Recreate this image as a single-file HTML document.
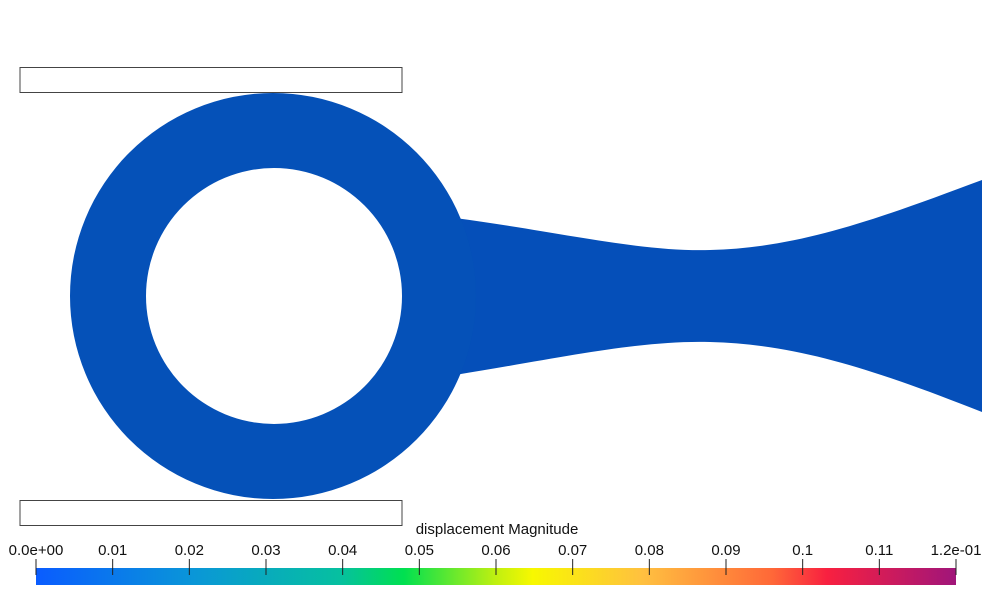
<!DOCTYPE html>
<html><head><meta charset="utf-8"><style>
html,body{margin:0;padding:0;background:#fff;width:1000px;height:612px;overflow:hidden}
svg{display:block;font-family:"Liberation Sans",sans-serif}
</style></head><body>
<svg id="chart" width="1000" height="612" viewBox="0 0 1000 612">
  <defs>
    <linearGradient id="cmap" x1="0" x2="1" y1="0" y2="0">
      <stop offset="0" stop-color="#0a5cff"/>
      <stop offset="0.17" stop-color="#0a96d8"/>
      <stop offset="0.33" stop-color="#06c0a0"/>
      <stop offset="0.4" stop-color="#00e050"/>
      <stop offset="0.5" stop-color="#c0f010"/>
      <stop offset="0.54" stop-color="#f8f800"/>
      <stop offset="0.66" stop-color="#ffc040"/>
      <stop offset="0.8" stop-color="#ff6838"/>
      <stop offset="0.86" stop-color="#f82040"/>
      <stop offset="1" stop-color="#a0157a"/>
    </linearGradient>
  </defs>
  <rect x="20" y="67.5" width="382" height="25" fill="none" stroke="#444" stroke-width="1"/>
  <rect x="20" y="500.5" width="382" height="25" fill="none" stroke="#444" stroke-width="1"/>
  <path d="M455,218 C560,232 640,252 710,250 C800,248 880,218 982,180 L982,412 C880,372 800,344 710,342 C640,340 560,358 455,375 Z" fill="#054fb9"/>
  <path fill-rule="evenodd" fill="#0551b8" d="M70,296 a203,203 0 1,0 406,0 a203,203 0 1,0 -406,0 Z M146,296 a128,128 0 1,0 256,0 a128,128 0 1,0 -256,0 Z"/>
  <text x="497" y="534" font-size="15" text-anchor="middle" fill="#111">displacement Magnitude</text>
  <rect x="36" y="568" width="920" height="17" fill="url(#cmap)"/>
  <g id="ticks"></g>
</svg>
<script>
const tickValues = [0,0.01,0.02,0.03,0.04,0.05,0.06,0.07,0.08,0.09,0.1,0.11,0.12];
const tickLabels = ["0.0e+00","0.01","0.02","0.03","0.04","0.05","0.06","0.07","0.08","0.09","0.1","0.11","1.2e-01"];
const rangeMin = 0, rangeMax = 0.12;
const x = v => 36 + (v - rangeMin) / (rangeMax - rangeMin) * 920;
const g = document.getElementById('ticks');
const NS = 'http://www.w3.org/2000/svg';
tickValues.forEach((v,i) => {
  const l = document.createElementNS(NS,'line');
  l.setAttribute('x1',x(v));l.setAttribute('x2',x(v));
  l.setAttribute('y1',559);l.setAttribute('y2',575);
  l.setAttribute('stroke','#222');l.setAttribute('stroke-width','1');
  
  
  g.appendChild(l);
  const t = document.createElementNS(NS,'text');
  t.setAttribute('x',x(v));t.setAttribute('y',555);
  t.setAttribute('font-size','15');t.setAttribute('text-anchor','middle');t.setAttribute('fill','#111');
  t.textContent = tickLabels[i];
  
  
  g.appendChild(t);
});
</script>
</body></html>
